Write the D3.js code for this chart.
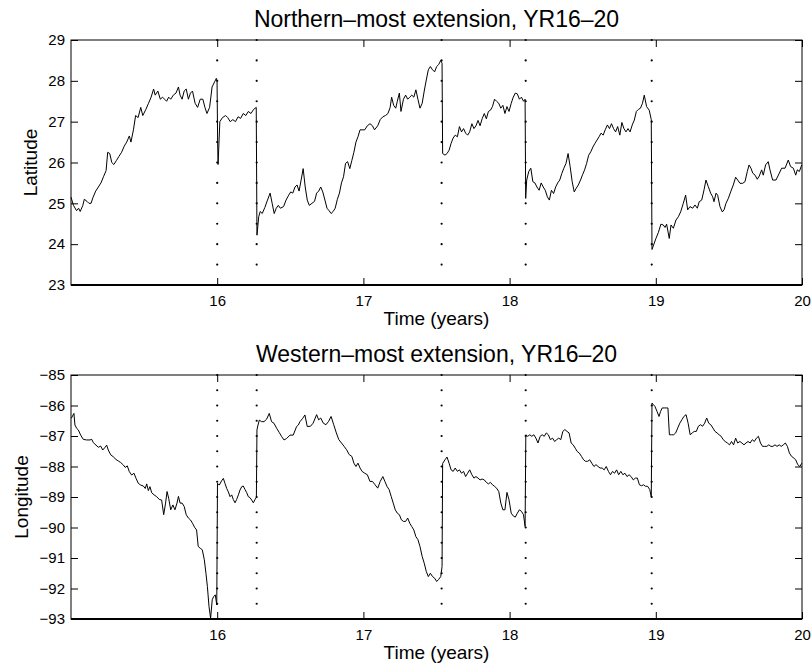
<!DOCTYPE html>
<html>
<head>
<meta charset="utf-8">
<script src="https://cdn.jsdelivr.net/npm/d3@7"></script>
<style>
  body { margin: 0; background: #fff; }
  svg { display: block; font-family: "Liberation Sans", Arial, Helvetica, sans-serif; }
</style>
</head>
<body>
<div id="chart"></div>
<script>
// years where the dotted markers are drawn
const eventYears = [16.0, 16.27, 17.535, 18.11, 18.972];

const xTicks = [16, 17, 18, 19, 20];
const latTicks = [23, 24, 25, 26, 27, 28, 29];
const lonTicks = [-93, -92, -91, -90, -89, -88, -87, -86, -85];

// dotted markers every half degree
const latDots = [23, 23.5, 24, 24.5, 25, 25.5, 26, 26.5, 27, 27.5, 28, 28.5, 29];
const lonDots = [-93, -92.5, -92, -91.5, -91, -90.5, -90, -89.5, -89, -88.5, -88, -87.5, -87, -86.5, -86, -85.5, -85];

// [year, latitude]
const northData = [
  [15.000, 25.15], [15.017, 24.95], [15.038, 24.82], [15.052, 24.88], [15.063, 24.80], [15.081, 24.95],
  [15.091, 25.10], [15.109, 25.05], [15.123, 25.00], [15.137, 25.00], [15.151, 25.15], [15.169, 25.30],
  [15.187, 25.40], [15.205, 25.50], [15.222, 25.65], [15.240, 25.80], [15.251, 26.25], [15.265, 26.22],
  [15.279, 26.00], [15.293, 25.95], [15.311, 26.05], [15.328, 26.15], [15.346, 26.25], [15.364, 26.40],
  [15.381, 26.50], [15.399, 26.65], [15.410, 26.50], [15.427, 26.80], [15.442, 27.15], [15.459, 27.10],
  [15.477, 27.35], [15.491, 27.15], [15.512, 27.30], [15.530, 27.45], [15.548, 27.60], [15.565, 27.80],
  [15.576, 27.65], [15.594, 27.75], [15.611, 27.55], [15.626, 27.60], [15.640, 27.55], [15.654, 27.50],
  [15.668, 27.60], [15.682, 27.55], [15.700, 27.65], [15.718, 27.70], [15.735, 27.85], [15.746, 27.65],
  [15.760, 27.55], [15.774, 27.75], [15.788, 27.80], [15.803, 27.55], [15.817, 27.70], [15.831, 27.75],
  [15.849, 27.45], [15.866, 27.35], [15.884, 27.55], [15.902, 27.55], [15.916, 27.35], [15.930, 27.20],
  [15.948, 27.35], [15.965, 27.85], [15.983, 27.98], [15.994, 28.06], [15.999, 28.00],
  [16.003, 26.50], [16.006, 25.95], [16.018, 27.00], [16.036, 27.10], [16.058, 27.15], [16.072, 27.10],
  [16.089, 27.00], [16.107, 27.05], [16.125, 27.00], [16.143, 27.12], [16.160, 27.08], [16.178, 27.20],
  [16.196, 27.15], [16.213, 27.25], [16.231, 27.20], [16.249, 27.30], [16.267, 27.35],
  [16.272, 24.22], [16.284, 24.67], [16.294, 24.80], [16.308, 24.75], [16.326, 24.90], [16.344, 25.08],
  [16.362, 25.25], [16.376, 25.00], [16.390, 24.75], [16.404, 24.88], [16.418, 24.95], [16.432, 24.88],
  [16.454, 24.92], [16.471, 25.08], [16.489, 25.20], [16.503, 25.28], [16.517, 25.25], [16.532, 25.40],
  [16.546, 25.45], [16.560, 25.30], [16.574, 25.57], [16.588, 25.85], [16.602, 25.40], [16.616, 25.08],
  [16.630, 24.95], [16.648, 25.00], [16.666, 25.05], [16.680, 25.25], [16.694, 25.30], [16.708, 25.40],
  [16.722, 25.28], [16.737, 25.08], [16.751, 24.88], [16.765, 24.82], [16.779, 24.75], [16.793, 24.80],
  [16.807, 24.88], [16.822, 25.10], [16.836, 25.25], [16.850, 25.50], [16.864, 25.65], [16.878, 25.98],
  [16.892, 26.02], [16.907, 25.85], [16.921, 26.05], [16.935, 26.25], [16.949, 26.50], [16.963, 26.63],
  [16.977, 26.80], [16.991, 26.80], [17.009, 26.80], [17.027, 26.90], [17.045, 26.95], [17.062, 26.90],
  [17.076, 26.80], [17.098, 26.90], [17.115, 27.05], [17.133, 27.12], [17.151, 27.15], [17.168, 27.20],
  [17.183, 27.35], [17.193, 27.60], [17.207, 27.40], [17.221, 27.33], [17.232, 27.50], [17.246, 27.70],
  [17.257, 27.25], [17.274, 27.55], [17.289, 27.65], [17.303, 27.55], [17.317, 27.60], [17.331, 27.65],
  [17.345, 27.60], [17.359, 27.78], [17.373, 27.55], [17.387, 27.33], [17.402, 27.45], [17.416, 27.75],
  [17.430, 28.02], [17.444, 28.27], [17.458, 28.35], [17.473, 28.27], [17.487, 28.22], [17.501, 28.35],
  [17.515, 28.40], [17.529, 28.50], [17.538, 28.43],
  [17.542, 26.22], [17.558, 26.18], [17.572, 26.22], [17.586, 26.30], [17.600, 26.47], [17.614, 26.60],
  [17.628, 26.67], [17.643, 26.63], [17.657, 26.88], [17.671, 26.75], [17.685, 26.83], [17.699, 26.72],
  [17.713, 26.67], [17.727, 26.75], [17.742, 26.95], [17.756, 26.83], [17.770, 26.90], [17.784, 27.03],
  [17.798, 26.90], [17.812, 27.07], [17.827, 27.20], [17.841, 27.07], [17.855, 27.25], [17.869, 27.28],
  [17.883, 27.37], [17.897, 27.55], [17.911, 27.50], [17.926, 27.45], [17.940, 27.33], [17.954, 27.40],
  [17.968, 27.20], [17.982, 27.37], [17.996, 27.25], [18.011, 27.45], [18.025, 27.60], [18.039, 27.70],
  [18.053, 27.68], [18.067, 27.55], [18.081, 27.60], [18.095, 27.50], [18.106, 27.55],
  [18.110, 25.12], [18.117, 25.57], [18.131, 25.78], [18.145, 25.86], [18.159, 25.53], [18.173, 25.50],
  [18.187, 25.40], [18.202, 25.32], [18.216, 25.50], [18.230, 25.40], [18.244, 25.32], [18.258, 25.16],
  [18.272, 25.08], [18.286, 25.32], [18.301, 25.24], [18.315, 25.40], [18.329, 25.50], [18.343, 25.57],
  [18.357, 25.73], [18.371, 25.86], [18.386, 25.98], [18.400, 26.22], [18.414, 25.90], [18.428, 25.53],
  [18.442, 25.28], [18.456, 25.37], [18.470, 25.45], [18.485, 25.57], [18.499, 25.70], [18.513, 25.82],
  [18.527, 25.98], [18.541, 26.18], [18.555, 26.26], [18.570, 26.38], [18.584, 26.47], [18.598, 26.55],
  [18.612, 26.63], [18.626, 26.72], [18.640, 26.67], [18.654, 26.80], [18.669, 26.92], [18.683, 26.83],
  [18.697, 26.95], [18.711, 26.83], [18.725, 26.75], [18.739, 26.88], [18.754, 26.67], [18.768, 26.98],
  [18.782, 26.83], [18.796, 26.75], [18.810, 26.83], [18.824, 26.75], [18.839, 26.92], [18.853, 27.04],
  [18.867, 27.25], [18.881, 27.30], [18.895, 27.33], [18.909, 27.45], [18.921, 27.65], [18.937, 27.37],
  [18.955, 27.28], [18.969, 27.05],
  [18.974, 23.87], [19.001, 24.14], [19.017, 24.28], [19.035, 24.49], [19.051, 24.47], [19.063, 24.41],
  [19.074, 24.49], [19.092, 24.14], [19.104, 24.47], [19.120, 24.39], [19.138, 24.59], [19.154, 24.67],
  [19.170, 24.79], [19.188, 25.00], [19.204, 25.20], [19.218, 24.84], [19.234, 24.92], [19.252, 24.88],
  [19.268, 24.96], [19.284, 24.88], [19.297, 25.04], [19.314, 25.08], [19.330, 25.33], [19.343, 25.57],
  [19.359, 25.41], [19.375, 25.25], [19.389, 25.16], [19.398, 25.04], [19.412, 25.25], [19.423, 25.20],
  [19.439, 24.92], [19.455, 24.79], [19.467, 24.84], [19.480, 25.00], [19.496, 25.12], [19.512, 25.28],
  [19.530, 25.45], [19.546, 25.64], [19.560, 25.57], [19.576, 25.49], [19.594, 25.49], [19.610, 25.53],
  [19.626, 25.78], [19.638, 25.94], [19.651, 25.86], [19.663, 25.74], [19.679, 25.69], [19.694, 25.59],
  [19.708, 25.67], [19.724, 25.82], [19.735, 25.69], [19.751, 25.94], [19.769, 26.02], [19.781, 25.82],
  [19.799, 25.57], [19.822, 25.57], [19.845, 25.74], [19.861, 25.86], [19.884, 25.86], [19.906, 26.06],
  [19.922, 25.90], [19.941, 25.86], [19.957, 25.69], [19.968, 25.82], [19.982, 25.78], [19.998, 25.94]
];

// [year, longitude]
const westData = [
  [15.002, -86.42], [15.020, -86.26], [15.027, -86.64], [15.039, -86.75], [15.050, -86.80], [15.066, -86.97],
  [15.084, -87.11], [15.107, -87.13], [15.130, -87.13], [15.142, -87.11], [15.153, -87.22], [15.171, -87.30],
  [15.187, -87.37], [15.203, -87.33], [15.217, -87.46], [15.233, -87.37], [15.244, -87.30], [15.255, -87.46],
  [15.272, -87.62], [15.289, -87.68], [15.308, -87.77], [15.324, -87.82], [15.340, -87.87], [15.358, -87.95],
  [15.371, -88.03], [15.385, -87.98], [15.399, -88.17], [15.415, -88.28], [15.431, -88.22], [15.445, -88.39],
  [15.460, -88.55], [15.477, -88.61], [15.495, -88.64], [15.508, -88.72], [15.518, -88.57], [15.529, -88.79],
  [15.540, -88.66], [15.552, -88.86], [15.568, -88.93], [15.586, -88.99], [15.604, -89.08], [15.620, -89.10],
  [15.634, -89.58], [15.647, -89.20], [15.657, -88.82], [15.668, -89.04], [15.682, -89.42], [15.697, -89.26],
  [15.711, -89.42], [15.725, -89.20], [15.735, -88.98], [15.746, -89.20], [15.760, -89.20], [15.774, -89.31],
  [15.788, -89.58], [15.803, -89.69], [15.817, -89.75], [15.831, -89.86], [15.845, -89.99], [15.859, -90.08],
  [15.870, -90.62], [15.884, -90.68], [15.898, -90.73], [15.912, -91.06], [15.923, -91.50], [15.933, -91.94],
  [15.944, -92.59], [15.955, -92.98], [15.966, -92.37], [15.976, -92.26], [15.987, -92.21], [15.997, -92.54],
  [16.002, -88.55], [16.014, -88.61], [16.030, -88.47], [16.042, -88.39], [16.053, -88.55], [16.065, -88.72],
  [16.076, -88.83], [16.088, -88.99], [16.099, -88.93], [16.110, -89.08], [16.122, -89.19], [16.133, -89.08],
  [16.145, -88.93], [16.156, -88.77], [16.168, -88.66], [16.178, -88.64], [16.190, -88.75], [16.202, -88.86],
  [16.213, -88.99], [16.224, -89.02], [16.236, -89.10], [16.247, -89.19], [16.259, -89.08], [16.268, -89.01],
  [16.272, -86.80], [16.279, -86.64], [16.288, -86.48], [16.304, -86.53], [16.320, -86.53], [16.338, -86.45],
  [16.356, -86.26], [16.372, -86.53], [16.388, -86.58], [16.407, -86.75], [16.425, -86.89], [16.441, -87.02],
  [16.457, -87.13], [16.475, -87.08], [16.498, -86.97], [16.520, -86.97], [16.543, -86.69], [16.555, -86.64],
  [16.566, -86.53], [16.585, -86.42], [16.600, -86.31], [16.616, -86.69], [16.638, -86.68], [16.656, -86.58],
  [16.680, -86.30], [16.694, -86.47], [16.708, -86.41], [16.726, -86.58], [16.744, -86.63], [16.762, -86.52],
  [16.779, -86.36], [16.797, -86.63], [16.815, -86.90], [16.832, -87.12], [16.850, -87.23], [16.868, -87.34],
  [16.885, -87.45], [16.903, -87.61], [16.921, -87.67], [16.935, -87.89], [16.949, -88.00], [16.963, -87.89],
  [16.977, -88.05], [16.991, -88.16], [17.009, -88.22], [17.027, -88.27], [17.045, -88.49], [17.062, -88.49],
  [17.080, -88.60], [17.098, -88.71], [17.115, -88.49], [17.133, -88.33], [17.147, -88.49], [17.161, -88.65],
  [17.176, -88.76], [17.190, -88.98], [17.204, -89.20], [17.218, -89.42], [17.232, -89.53], [17.246, -89.58],
  [17.260, -89.75], [17.274, -89.80], [17.289, -89.80], [17.303, -89.69], [17.317, -89.86], [17.331, -89.97],
  [17.345, -90.08], [17.359, -90.30], [17.373, -90.40], [17.387, -90.62], [17.402, -90.95], [17.416, -91.17],
  [17.430, -91.44], [17.444, -91.61], [17.458, -91.50], [17.473, -91.61], [17.487, -91.66], [17.501, -91.77],
  [17.515, -91.70], [17.529, -91.61], [17.538, -91.28],
  [17.542, -87.90], [17.558, -87.78], [17.572, -87.69], [17.586, -87.89], [17.600, -88.11], [17.614, -88.16],
  [17.628, -88.05], [17.643, -88.16], [17.657, -88.11], [17.671, -88.22], [17.685, -88.16], [17.699, -88.33],
  [17.713, -88.22], [17.727, -88.11], [17.742, -88.27], [17.756, -88.38], [17.770, -88.33], [17.784, -88.38],
  [17.798, -88.44], [17.812, -88.41], [17.827, -88.44], [17.841, -88.52], [17.855, -88.57], [17.869, -88.52],
  [17.883, -88.60], [17.897, -88.65], [17.911, -88.71], [17.926, -88.82], [17.940, -89.20], [17.954, -89.42],
  [17.968, -89.42], [17.982, -88.85], [17.996, -89.09], [18.011, -89.53], [18.025, -89.62], [18.039, -89.66],
  [18.053, -89.53], [18.067, -89.42], [18.081, -89.47], [18.095, -89.58], [18.106, -89.97],
  [18.111, -86.96], [18.124, -87.01], [18.138, -86.96], [18.152, -87.01], [18.166, -86.96], [18.180, -87.07],
  [18.194, -87.23], [18.209, -87.01], [18.223, -86.96], [18.237, -87.01], [18.251, -86.90], [18.265, -86.96],
  [18.279, -87.12], [18.294, -87.07], [18.308, -87.18], [18.322, -87.12], [18.336, -87.07], [18.350, -87.12],
  [18.364, -86.85], [18.378, -86.79], [18.393, -86.85], [18.407, -86.90], [18.421, -87.23], [18.435, -87.29],
  [18.449, -87.40], [18.463, -87.51], [18.477, -87.56], [18.492, -87.67], [18.506, -87.78], [18.520, -87.83],
  [18.534, -87.83], [18.548, -87.78], [18.562, -87.89], [18.577, -88.00], [18.591, -87.94], [18.605, -88.00],
  [18.619, -88.05], [18.633, -88.05], [18.647, -88.11], [18.661, -88.00], [18.676, -88.16], [18.690, -88.27],
  [18.704, -88.16], [18.718, -88.22], [18.732, -88.11], [18.746, -88.27], [18.761, -88.16], [18.775, -88.27],
  [18.789, -88.22], [18.803, -88.33], [18.817, -88.27], [18.831, -88.33], [18.846, -88.44], [18.860, -88.38],
  [18.874, -88.38], [18.888, -88.60], [18.902, -88.63], [18.916, -88.60], [18.930, -88.65], [18.944, -88.65],
  [18.959, -88.76], [18.969, -89.00],
  [18.974, -85.92], [18.983, -85.97], [18.994, -86.03], [19.008, -86.19], [19.022, -86.36], [19.033, -86.19],
  [19.044, -86.08], [19.058, -86.08], [19.072, -86.08], [19.083, -86.08], [19.093, -86.96], [19.108, -86.96],
  [19.122, -86.96], [19.136, -86.90], [19.150, -86.74], [19.164, -86.58], [19.178, -86.47], [19.192, -86.36],
  [19.207, -86.30], [19.221, -86.58], [19.235, -86.96], [19.249, -86.90], [19.263, -86.85], [19.277, -86.85],
  [19.291, -86.68], [19.306, -86.63], [19.320, -86.68], [19.334, -86.58], [19.348, -86.41], [19.362, -86.58],
  [19.376, -86.63], [19.391, -86.74], [19.405, -86.85], [19.419, -86.90], [19.433, -86.96], [19.447, -87.01],
  [19.461, -87.12], [19.475, -87.18], [19.490, -87.23], [19.504, -87.29], [19.518, -87.18], [19.532, -87.29],
  [19.546, -87.07], [19.560, -87.23], [19.575, -87.18], [19.589, -87.23], [19.603, -87.29], [19.617, -87.23],
  [19.631, -87.18], [19.645, -87.23], [19.660, -87.12], [19.674, -87.18], [19.688, -87.07], [19.702, -87.01],
  [19.716, -87.23], [19.730, -87.34], [19.745, -87.34], [19.759, -87.34], [19.773, -87.29], [19.787, -87.34],
  [19.801, -87.34], [19.815, -87.29], [19.829, -87.34], [19.844, -87.29], [19.858, -87.34], [19.872, -87.29],
  [19.886, -87.23], [19.900, -87.34], [19.914, -87.56], [19.929, -87.67], [19.943, -87.72], [19.957, -87.78],
  [19.971, -87.94], [19.985, -88.00], [19.999, -87.89]
];

const width = 811;
const height = 666;
const left = 71, right = 802;
const tickLen = 7;
const fmt = d3.format("d");

const svg = d3.select("#chart")
  .append("svg")
  .attr("width", width)
  .attr("height", height);

const x = d3.scaleLinear().domain([15, 20]).range([left, right]);

function drawPanel(opts) {
  const y = d3.scaleLinear().domain(opts.domain).range([opts.bottom, opts.top]);
  const g = svg.append("g");

  // inward ticks on all four sides
  const axes = [
    { axis: d3.axisBottom(x).tickValues(xTicks).tickFormat(fmt).tickSize(-tickLen).tickPadding(10), at: `translate(0,${opts.bottom})`, labels: true },
    { axis: d3.axisTop(x).tickValues(xTicks).tickSize(-tickLen), at: `translate(0,${opts.top})`, labels: false },
    { axis: d3.axisLeft(y).tickValues(opts.ticks).tickFormat(fmt).tickSize(-tickLen).tickPadding(6), at: `translate(${left},0)`, labels: true },
    { axis: d3.axisRight(y).tickValues(opts.ticks).tickSize(-tickLen), at: `translate(${right},0)`, labels: false }
  ];
  axes.forEach(a => {
    const ag = g.append("g").attr("transform", a.at).call(a.axis);
    ag.select(".domain").remove();
    ag.selectAll(".tick line").attr("stroke", "#000").attr("stroke-width", 1);
    if (a.labels) {
      ag.selectAll(".tick text").attr("fill", "#000").style("font-size", "15px");
    } else {
      ag.selectAll(".tick text").remove();
    }
  });

  // box
  g.append("rect")
    .attr("x", left).attr("y", opts.top)
    .attr("width", right - left).attr("height", opts.bottom - opts.top)
    .attr("fill", "none").attr("stroke", "#000").attr("stroke-width", 1);
  g.append("line")
    .attr("x1", left).attr("x2", right)
    .attr("y1", opts.bottom).attr("y2", opts.bottom)
    .attr("stroke", "#000").attr("stroke-width", 2);

  // dotted event markers
  eventYears.forEach(ev => {
    g.selectAll(null)
      .data(opts.dots)
      .enter()
      .append("circle")
      .attr("cx", x(ev))
      .attr("cy", d => y(d))
      .attr("r", 1.1)
      .attr("fill", "#000");
  });

  const line = d3.line()
    .x(d => x(d[0]))
    .y(d => y(d[1]));

  g.append("path")
    .datum(opts.data)
    .attr("d", line)
    .attr("fill", "none")
    .attr("stroke", "#000")
    .attr("stroke-width", 1)
    .attr("stroke-linejoin", "round");

  g.append("text")
    .attr("x", (left + right) / 2)
    .attr("y", opts.top - 13)
    .attr("text-anchor", "middle")
    .style("font-size", "23px")
    .text(opts.title);

  g.append("text")
    .attr("x", (left + right) / 2)
    .attr("y", opts.bottom + 40)
    .attr("text-anchor", "middle")
    .style("font-size", "19px")
    .text("Time (years)");

  g.append("text")
    .attr("transform", `translate(${opts.labelX},${(opts.top + opts.bottom) / 2}) rotate(-90)`)
    .attr("text-anchor", "middle")
    .style("font-size", "19px")
    .text(opts.ylabel);
}

drawPanel({
  top: 40, bottom: 285,
  domain: [23, 29],
  ticks: latTicks,
  dots: latDots,
  data: northData,
  title: "Northern\u2013most extension, YR16\u201320",
  ylabel: "Latitude",
  labelX: 37
});

drawPanel({
  top: 375, bottom: 619,
  domain: [-93, -85],
  ticks: lonTicks,
  dots: lonDots,
  data: westData,
  title: "Western\u2013most extension, YR16\u201320",
  ylabel: "Longitude",
  labelX: 28
});
</script>
</body>
</html>
